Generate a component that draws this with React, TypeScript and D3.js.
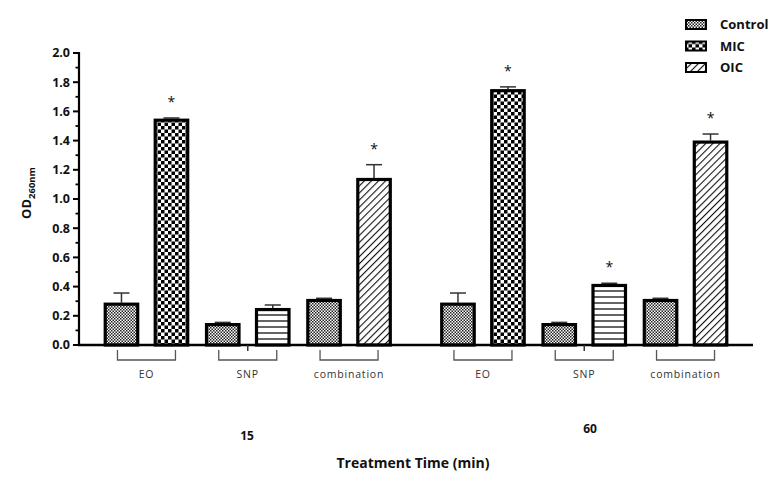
import React from "react";
import * as d3 from "d3";

const groups = ["15", "60"];
const subCategories = ["EO", "SNP", "combination"];
const legendItems = ["Control", "MIC", "OIC"];
// pattern of the treated bar in each sub-category
const treatedPatterns = ["MIC", "HLINES", "OIC"];

const controlValues15 = [0.29, 0.15, 0.315];
const controlErrTop15 = [0.356, 0.155, 0.32];
const treatedValues15 = [1.55, 0.253, 1.144];
const treatedErrTop15 = [1.555, 0.274, 1.235];
const treatedSig15 = [true, false, true];

const controlValues60 = [0.29, 0.15, 0.315];
const controlErrTop60 = [0.356, 0.155, 0.32];
const treatedValues60 = [1.752, 0.418, 1.4];
const treatedErrTop60 = [1.768, 0.423, 1.445];
const treatedSig60 = [true, true, true];

const yTicks = [0, 0.2, 0.4, 0.6, 0.8, 1.0, 1.2, 1.4, 1.6, 1.8, 2.0];
const yMinorTicks = d3.range(0.1, 2.0, 0.2);

const W = 782;
const H = 483;

const font = "'Open Sans', 'DejaVu Sans', sans-serif";

export default function App() {
  const y = d3.scaleLinear().domain([0, 2]).range([345, 53]);
  const x0 = d3.scaleBand().domain(groups).range([79, 753]).paddingInner(0.097).paddingOuter(0.05);
  const x1 = d3.scaleBand().domain(subCategories).range([0, x0.bandwidth()]).padding(0);
  const x2 = d3.scaleBand().domain(["c", "t"]).range([0, x1.bandwidth()]).paddingInner(0.29).paddingOuter(0.158);

  const data = [
    { g: "15", cv: controlValues15, ce: controlErrTop15, tv: treatedValues15, te: treatedErrTop15, sig: treatedSig15 },
    { g: "60", cv: controlValues60, ce: controlErrTop60, tv: treatedValues60, te: treatedErrTop60, sig: treatedSig60 },
  ];

  const bars: any[] = [];
  data.forEach((d) => {
    subCategories.forEach((s, i) => {
      const base = (x0(d.g) as number) + (x1(s) as number);
      bars.push({ key: d.g + s + "c", x: base + (x2("c") as number), v: d.cv[i], e: d.ce[i], pat: "Control", sig: false });
      bars.push({ key: d.g + s + "t", x: base + (x2("t") as number), v: d.tv[i], e: d.te[i], pat: treatedPatterns[i], sig: d.sig[i] });
    });
  });
  const bw = x2.bandwidth();

  const patFill = (p: string) => `url(#pat-${p})`;

  return (
    <svg width={W} height={H} style={{ position: "absolute", left: 0, top: 0, background: "#fff" }}>
      <defs>
        <pattern id="pat-Control" patternUnits="userSpaceOnUse" width={3} height={3}>
          <rect width={3} height={3} fill="#fff" />
          <rect width={1.5} height={1.5} fill="#222" />
          <rect x={1.5} y={1.5} width={1.5} height={1.5} fill="#222" />
        </pattern>
        <pattern id="pat-MIC" patternUnits="userSpaceOnUse" width={7} height={7}>
          <rect width={7} height={7} fill="#fff" />
          <rect width={3.5} height={3.5} fill="#000" />
          <rect x={3.5} y={3.5} width={3.5} height={3.5} fill="#000" />
        </pattern>
        <pattern id="pat-HLINES" patternUnits="userSpaceOnUse" width={8} height={6}>
          <rect width={8} height={6} fill="#fff" />
          <line x1={0} x2={8} y1={3} y2={3} stroke="#111" strokeWidth={1.3} />
        </pattern>
        <pattern id="pat-OIC" patternUnits="userSpaceOnUse" width={5} height={5} patternTransform="rotate(45)">
          <rect width={5} height={5} fill="#fff" />
          <line x1={0} x2={0} y1={0} y2={5} stroke="#111" strokeWidth={2.2} />
        </pattern>
      </defs>

      {/* bars */}
      {bars.map((b) => (
        <g key={b.key}>
          <line x1={b.x + bw / 2} x2={b.x + bw / 2} y1={y(b.v)} y2={y(b.e)} stroke="#333" strokeWidth={1.5} />
          <line x1={b.x + bw / 2 - 8} x2={b.x + bw / 2 + 8} y1={y(b.e)} y2={y(b.e)} stroke="#333" strokeWidth={1.5} />
          <rect x={b.x + 1.5} y={y(b.v) + 1.5} width={bw - 3} height={y(0) - y(b.v) - 1.5} fill={patFill(b.pat)} stroke="#000" strokeWidth={3.2} />
          {b.sig && (
            <text x={b.x + bw / 2} y={y(b.e) - 11} textAnchor="middle" fontFamily={font} fontSize={14} fill="#111">
              *
            </text>
          )}
        </g>
      ))}

      {/* y axis */}
      <line x1={79} x2={79} y1={y(2) - 1} y2={y(0)} stroke="#000" strokeWidth={2.2} />
      {yTicks.map((t) => (
        <g key={"t" + t}>
          <line x1={73} x2={79} y1={y(t)} y2={y(t)} stroke="#000" strokeWidth={2} />
          <text x={70} y={y(t)} dy="0.35em" textAnchor="end" fontFamily={font} fontWeight="bold" fontSize={12.5} fill="#111">
            {t.toFixed(1)}
          </text>
        </g>
      ))}
      {yMinorTicks.map((t) => (
        <line key={"m" + t} x1={75.5} x2={79} y1={y(t)} y2={y(t)} stroke="#000" strokeWidth={1.8} />
      ))}
      <text transform="translate(31,193) rotate(-90)" textAnchor="middle" fontFamily={font} fontWeight="bold" fontSize={13} fill="#111">
        OD<tspan fontSize={9.5} dy={4}>260nm</tspan>
      </text>

      {/* x axis */}
      <line x1={78} x2={753} y1={y(0)} y2={y(0)} stroke="#000" strokeWidth={2.5} />
      {groups.map((g) => {
        const gc = (x0(g) as number) + x0.bandwidth() / 2;
        return <line key={"gt" + g} x1={gc} x2={gc} y1={y(0)} y2={y(0) + 6} stroke="#333" strokeWidth={1.5} />;
      })}
      {groups.map((g) =>
        subCategories.map((s) => {
          const base = (x0(g) as number) + (x1(s) as number);
          const c = base + x1.bandwidth() / 2;
          const l = c - 29;
          const r = c + 29;
          return (
            <g key={"br" + g + s}>
              <path d={`M${l},${y(0) + 5}V${y(0) + 15}H${r}V${y(0) + 5}`} fill="none" stroke="#555" strokeWidth={1.3} />
              <text x={c} y={y(0) + 33} textAnchor="middle" fontFamily={font} fontSize={10.5} letterSpacing={0.8} fill="#333">
                {s}
              </text>
            </g>
          );
        })
      )}
      <text x={247} y={440} textAnchor="middle" fontFamily={font} fontWeight="bold" fontSize={12} fill="#111">
        {groups[0]}
      </text>
      <text x={590} y={433} textAnchor="middle" fontFamily={font} fontWeight="bold" fontSize={12} fill="#111">
        {groups[1]}
      </text>
      <text x={413} y={468} textAnchor="middle" fontFamily={font} fontWeight="bold" fontSize={14} fill="#111">
        Treatment Time (min)
      </text>

      {/* legend */}
      {legendItems.map((l, i) => (
        <g key={"lg" + l} transform={`translate(685,${19 + i * 21.5})`}>
          <rect x={1} y={1} width={20} height={9} fill={patFill(l)} stroke="#000" strokeWidth={2} />
          <text x={35} y={5.5} dy="0.35em" fontFamily={font} fontWeight="bold" fontSize={13} fill="#111">
            {l}
          </text>
        </g>
      ))}
    </svg>
  );
}
